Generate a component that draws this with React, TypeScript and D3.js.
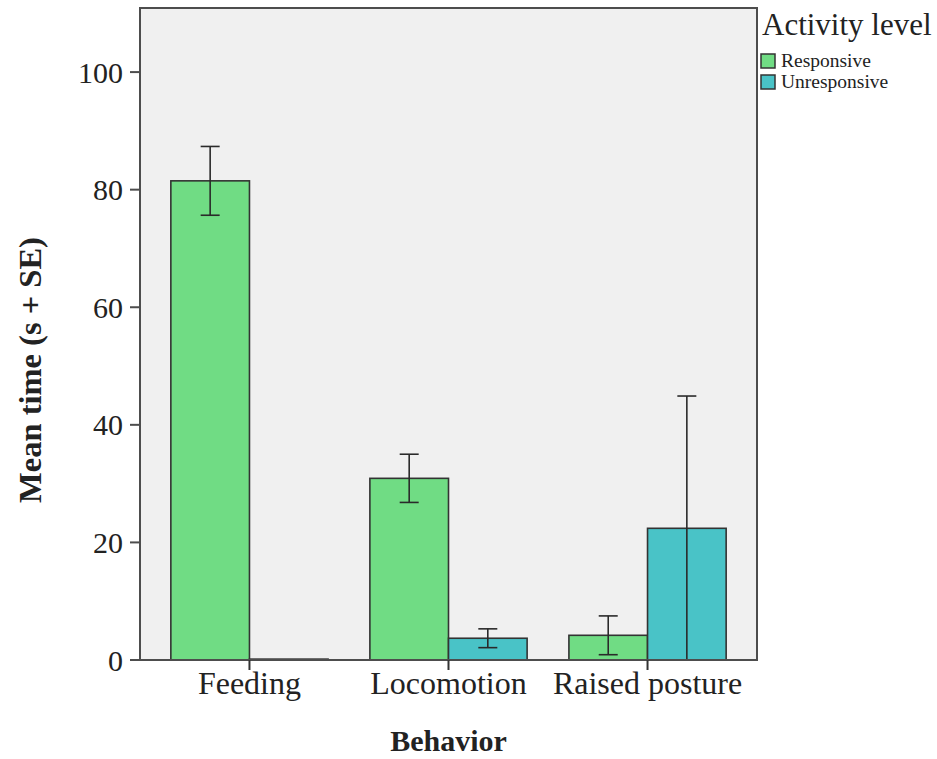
import React from "react";
import { scaleBand, scaleLinear } from "d3";

// values (mean time, seconds)
const categories = ["Feeding", "Locomotion", "Raised posture"];
const groups = ["Responsive", "Unresponsive"];
const responsive = [81.5, 30.9, 4.2];
const unresponsive = [0.15, 3.7, 22.4];
const responsiveSE = [5.85, 4.1, 3.3];
const unresponsiveSE = [0, 1.6, 22.5];
const yTicks = [0, 20, 40, 60, 80, 100];

const colors = ["#70dc84", "#49c3c7"];
const font = "'Liberation Serif', 'Times New Roman', serif";

const width = 937;
const height = 759;
const margin = { top: 8, right: 180, bottom: 99, left: 140 };

const App = () => {
  const x0 = scaleBand()
    .domain(categories)
    .range([margin.left, width - margin.right])
    .paddingInner(0.21)
    .paddingOuter(0.155);

  const x1 = scaleBand().domain(groups).range([0, x0.bandwidth()]);

  const y = scaleLinear()
    .domain([0, 110.9])
    .range([height - margin.bottom, margin.top]);

  const series = [
    { key: groups[0], values: responsive, se: responsiveSE, color: colors[0] },
    { key: groups[1], values: unresponsive, se: unresponsiveSE, color: colors[1] },
  ];

  const plotLeft = margin.left;
  const plotRight = width - margin.right;
  const plotTop = margin.top;
  const plotBottom = height - margin.bottom;
  const cap = 19;

  return (
    <svg
      width={width}
      height={height}
      style={{ position: "absolute", left: 0, top: 0, background: "#fff" }}
      fontFamily={font}
    >
      <rect
        x={plotLeft}
        y={plotTop}
        width={plotRight - plotLeft}
        height={plotBottom - plotTop}
        fill="#f0f0f0"
      />

      {series.map((s) =>
        categories.map((c, i) => {
          const bx = x0(c) + x1(s.key);
          const v = s.values[i];
          return (
            <rect
              key={s.key + c}
              x={bx}
              y={y(v)}
              width={x1.bandwidth()}
              height={Math.max(1, y(0) - y(v))}
              fill={s.color}
              stroke="#333"
              strokeWidth={1.6}
            />
          );
        })
      )}

      {series.map((s) =>
        categories.map((c, i) => {
          if (!s.se[i]) return null;
          const cx = x0(c) + x1(s.key) + x1.bandwidth() / 2;
          const hi = y(s.values[i] + s.se[i]);
          const lo = y(Math.max(0, s.values[i] - s.se[i]));
          return (
            <g key={"err" + s.key + c} stroke="#2a2a2a" strokeWidth={1.6}>
              <line x1={cx} x2={cx} y1={hi} y2={lo} />
              <line x1={cx - cap / 2} x2={cx + cap / 2} y1={hi} y2={hi} />
              <line x1={cx - cap / 2} x2={cx + cap / 2} y1={lo} y2={lo} />
            </g>
          );
        })
      )}

      {/* frame */}
      <rect
        x={plotLeft}
        y={plotTop}
        width={plotRight - plotLeft}
        height={plotBottom - plotTop}
        fill="none"
        stroke="#4d4d4d"
        strokeWidth={2}
      />

      {/* y axis */}
      {yTicks.map((t) => (
        <g key={"yt" + t}>
          <line x1={plotLeft - 10} x2={plotLeft} y1={y(t)} y2={y(t)} stroke="#4d4d4d" strokeWidth={2} />
          <text
            x={plotLeft - 17}
            y={y(t)}
            dy="0.35em"
            textAnchor="end"
            fontSize={30}
            fill="#222"
          >
            {t}
          </text>
        </g>
      ))}

      {/* x axis */}
      {categories.map((c) => {
        const cx = x0(c) + x0.bandwidth() / 2;
        return (
          <g key={"xt" + c}>
            <line x1={cx} x2={cx} y1={plotBottom} y2={plotBottom + 10} stroke="#333" strokeWidth={2} />
            <text x={cx} y={plotBottom + 34} textAnchor="middle" fontSize={32} fill="#222">
              {c}
            </text>
          </g>
        );
      })}

      <text
        x={(plotLeft + plotRight) / 2}
        y={751}
        textAnchor="middle"
        fontSize={30}
        fontWeight="bold"
        fill="#222"
      >
        Behavior
      </text>
      <text
        transform={`translate(41, ${(plotTop + plotBottom) / 2 + 36}) rotate(-90)`}
        textAnchor="middle"
        fontSize={32.5}
        fontWeight="bold"
        fill="#222"
      >
        Mean time (s + SE)
      </text>

      {/* legend */}
      <text x={762} y={35} fontSize={31} fill="#222">
        Activity level
      </text>
      {series.map((s, i) => (
        <g key={"lg" + s.key}>
          <rect x={761} y={54 + i * 21} width={14} height={14} fill={s.color} stroke="#333" strokeWidth={1.5} />
          <text x={781} y={67 + i * 21} fontSize={19.5} fill="#222">
            {s.key}
          </text>
        </g>
      ))}
    </svg>
  );
};

export default App;
